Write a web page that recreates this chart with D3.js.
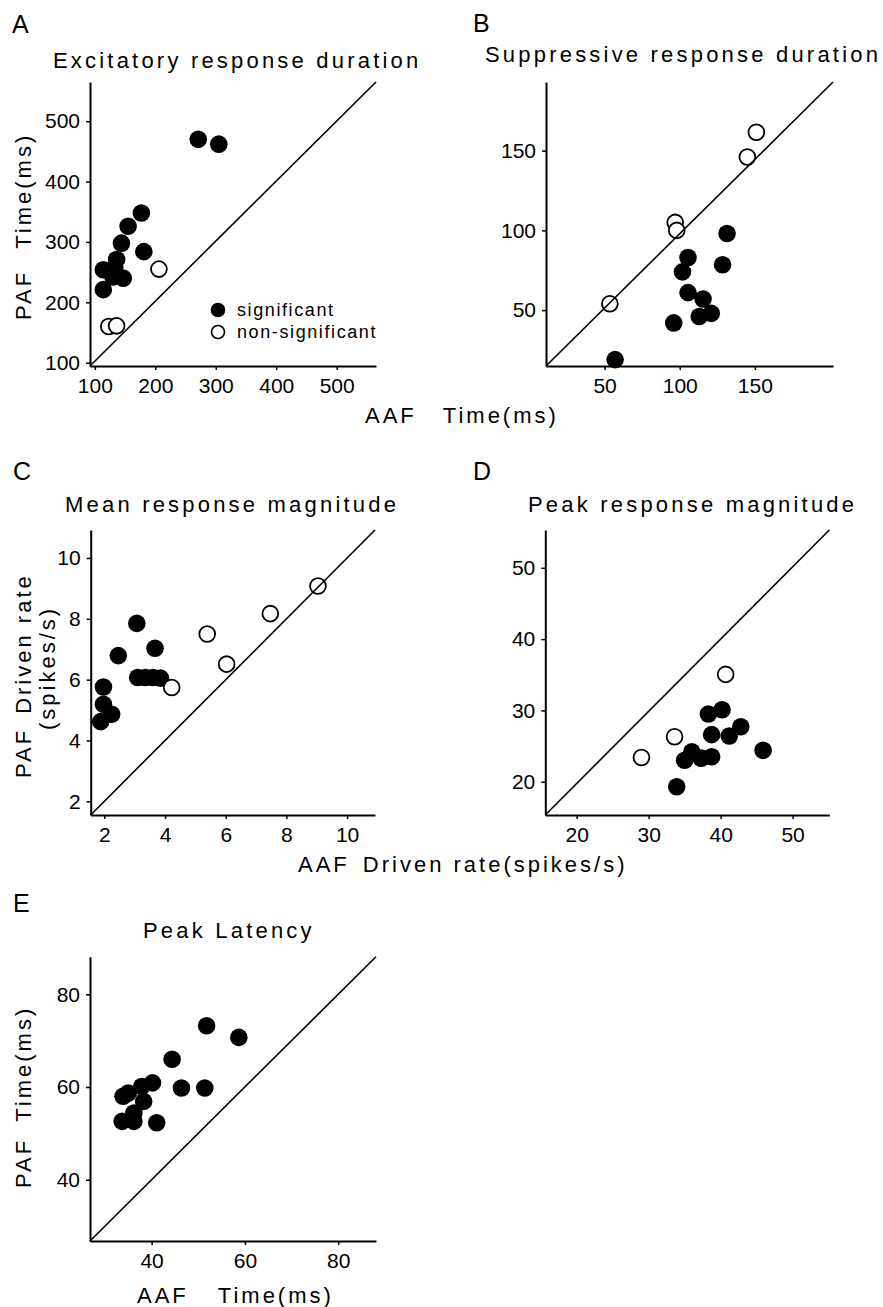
<!DOCTYPE html>
<html>
<head>
<meta charset="utf-8">
<script src="https://cdn.jsdelivr.net/npm/d3@7/dist/d3.min.js"></script>
<style>
  body { margin: 0; background: #fff; }
  svg text { font-family: "Liberation Sans", Arial, sans-serif; fill: #000; }
</style>
</head>
<body>
<svg id="fig" width="883" height="1307"></svg>
<script>
// A - excitatory response duration (ms)
const excSigAAF = [271, 305, 177, 155, 144, 181, 136, 114, 133, 147, 130, 114];
const excSigPAF = [470, 462, 348, 326, 298, 284, 271, 254, 258, 240, 242, 221];
const excNonAAF = [206, 123, 136];
const excNonPAF = [255, 160, 161];

// B - suppressive response duration (ms)
const supSigAAF = [131.5, 128.5, 105.5, 101.8, 105.5, 115.5, 121, 113, 96, 57];
const supSigPAF = [98, 78.5, 83, 74, 61, 57, 48, 46, 42, 19];
const supNonAAF = [151, 145, 97, 98, 53.5];
const supNonPAF = [161.5, 146, 105, 100, 54];

// C - mean response magnitude (spikes/s)
const meanSigAAF = [3.07, 2.46, 3.67, 3.1, 3.35, 3.6, 3.85, 1.97, 1.97, 2.24, 1.88];
const meanSigPAF = [7.85, 6.79, 7.03, 6.07, 6.07, 6.07, 6.05, 5.76, 5.19, 4.86, 4.62];
const meanNonAAF = [4.22, 5.39, 6.03, 7.47, 9.04];
const meanNonPAF = [5.74, 7.5, 6.51, 8.17, 9.08];

// D - peak response magnitude (spikes/s)
const peakSigAAF = [40.2, 38.3, 42.8, 38.75, 41.2, 45.9, 36.0, 35.0, 37.3, 38.75, 33.9];
const peakSigPAF = [30.1, 29.5, 27.7, 26.6, 26.4, 24.4, 24.2, 23.0, 23.3, 23.5, 19.3];
const peakNonAAF = [40.7, 33.6, 29.0];
const peakNonPAF = [35.05, 26.3, 23.4];

// E - peak latency (ms)
const latSigAAF = [51.8, 58.7, 44.4, 46.4, 51.4, 40.2, 37.9, 35.0, 33.9, 38.3, 36.2, 33.7, 36.2, 41.1];
const latSigPAF = [73.2, 70.7, 66.0, 59.8, 59.8, 60.9, 60.1, 58.7, 58.0, 56.9, 54.4, 52.6, 52.6, 52.3];

const svg = d3.select("#fig");
const r = 8.8;

const zip = (xs, ys) => xs.map((v, i) => [v, ys[i]]);

const panels = [
  { letter: "A", title: "Excitatory response duration", letterAt: [12, 33], titleAt: [53, 68],
    left: 90, top: 82, w: 286, h: 284, xDomain: [92, 565], yDomain: [94.5, 565],
    ticks: [100, 200, 300, 400, 500],
    sig: zip(excSigAAF, excSigPAF), non: zip(excNonAAF, excNonPAF) },
  { letter: "B", title: "Suppressive response duration", letterAt: [473, 32], titleAt: [485, 62],
    left: 546, top: 82, w: 287, h: 284, xDomain: [11, 202], yDomain: [15, 193],
    ticks: [50, 100, 150],
    sig: zip(supSigAAF, supSigPAF), non: zip(supNonAAF, supNonPAF) },
  { letter: "C", title: "Mean response magnitude", letterAt: [13, 480], titleAt: [65, 512],
    left: 90.7, top: 530, w: 284.3, h: 285, xDomain: [1.55, 10.92], yDomain: [1.55, 10.92],
    ticks: [2, 4, 6, 8, 10],
    sig: zip(meanSigAAF, meanSigPAF), non: zip(meanNonAAF, meanNonPAF) },
  { letter: "D", title: "Peak response magnitude", letterAt: [473, 480], titleAt: [528, 512],
    left: 545.3, top: 530, w: 284, h: 285, xDomain: [15.64, 55.1], yDomain: [15.33, 55.3],
    ticks: [20, 30, 40, 50],
    sig: zip(peakSigAAF, peakSigPAF), non: zip(peakNonAAF, peakNonPAF) },
  { letter: "E", title: "Peak Latency", letterAt: [13, 912], titleAt: [143, 938],
    left: 90, top: 956.7, w: 286, h: 284.3, xDomain: [26.8, 88.1], yDomain: [26.8, 88.1],
    ticks: [40, 60, 80],
    sig: zip(latSigAAF, latSigPAF), non: [] }
];

panels.forEach(p => {
  const x = d3.scaleLinear().domain(p.xDomain).range([0, p.w]);
  const y = d3.scaleLinear().domain(p.yDomain).range([p.h, 0]);

  svg.append("text")
    .attr("x", p.letterAt[0]).attr("y", p.letterAt[1])
    .attr("font-size", 25)
    .text(p.letter);

  svg.append("text")
    .attr("x", p.titleAt[0]).attr("y", p.titleAt[1])
    .attr("font-size", 22)
    .attr("letter-spacing", 3.2)
    .text(p.title);

  const g = svg.append("g").attr("transform", `translate(${p.left},${p.top})`);

  const xAxis = g.append("g")
    .attr("transform", `translate(0,${p.h})`)
    .call(d3.axisBottom(x).tickValues(p.ticks).tickSize(4).tickSizeOuter(0).tickPadding(8));
  const yAxis = g.append("g")
    .call(d3.axisLeft(y).tickValues(p.ticks).tickSize(4).tickSizeOuter(0).tickPadding(6));

  [xAxis, yAxis].forEach(a => {
    a.attr("font-size", 21).attr("font-family", null);
    a.select(".domain").attr("stroke-width", 2);
    a.selectAll(".tick line").attr("stroke-width", 1.5);
  });

  g.selectAll("circle.sig")
    .data(p.sig)
    .join("circle")
    .attr("class", "sig")
    .attr("cx", d => x(d[0]))
    .attr("cy", d => y(d[1]))
    .attr("r", r)
    .attr("fill", "#000");

  g.selectAll("circle.non")
    .data(p.non)
    .join("circle")
    .attr("class", "non")
    .attr("cx", d => x(d[0]))
    .attr("cy", d => y(d[1]))
    .attr("r", r - 0.9)
    .attr("fill", "#fff")
    .attr("stroke", "#000")
    .attr("stroke-width", 1.8);

  // unity line, corner to corner
  g.append("line")
    .attr("x1", x(p.xDomain[0])).attr("y1", y(p.yDomain[0]))
    .attr("x2", x(p.xDomain[1])).attr("y2", y(p.yDomain[1]))
    .attr("stroke", "#000")
    .attr("stroke-width", 1.6);
});

// legend in panel A
const legend = svg.append("g").attr("transform", "translate(218,310)");
[["significant", "#000"], ["non-significant", "#fff"]].forEach(([name, fill], i) => {
  legend.append("circle")
    .attr("cx", 0).attr("cy", i * 22)
    .attr("r", 6.5)
    .attr("fill", fill)
    .attr("stroke", "#000")
    .attr("stroke-width", 1.6);
  legend.append("text")
    .attr("x", 19).attr("y", i * 22 + 6)
    .attr("font-size", 18)
    .attr("letter-spacing", 1.6)
    .text(name);
});

function label(tx, ty, parts, rotate) {
  const t = svg.append("text")
    .attr("transform", `translate(${tx},${ty})` + (rotate ? " rotate(-90)" : ""))
    .attr("font-size", 22)
    .attr("letter-spacing", 3);
  parts.forEach(([str, dx]) => t.append("tspan").attr("dx", dx).text(str));
}

label(365, 423, [["AAF", 0], ["Time(ms)", 26]]);
label(298, 872, [["AAF", 0], ["Driven rate(spikes/s)", 13]]);
label(137, 1303, [["AAF", 0], ["Time(ms)", 29]]);

label(31, 320, [["PAF", 0], ["Time(ms)", 21]], true);
label(31, 778, [["PAF", 0], ["Driven rate", 14]], true);
label(55, 730, [["(spikes/s)", 0]], true);
label(31, 1188, [["PAF", 0], ["Time(ms)", 16]], true);
</script>
</body>
</html>
